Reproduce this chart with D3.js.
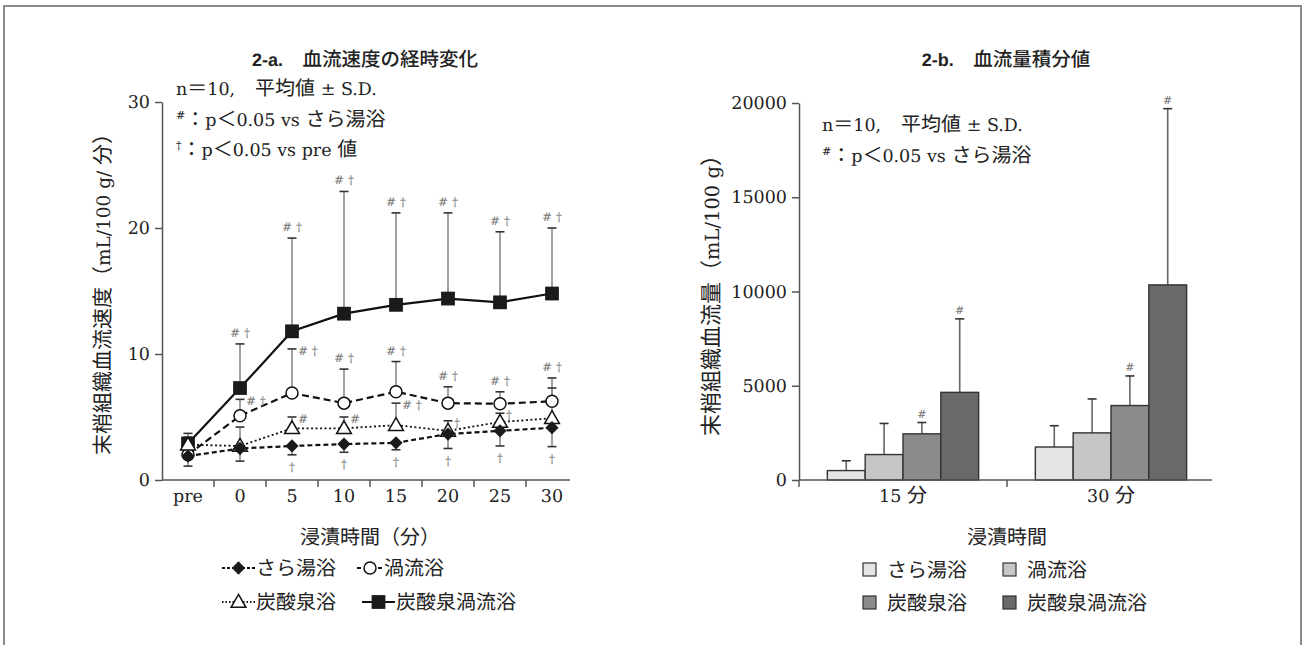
<!DOCTYPE html>
<html><head><meta charset="utf-8">
<script src="https://cdn.jsdelivr.net/npm/d3@7"></script>
<style>body{margin:0;background:#fff} text{text-rendering:geometricPrecision}</style>
</head><body><svg id="c" width="1304" height="645"></svg>
<script>
// ---------- data (left: 血流速度の経時変化) ----------
const timeLabels = ["pre","0","5","10","15","20","25","30"];
const yTicksL = [0,10,20,30];
const seriesNames = ["さら湯浴","渦流浴","炭酸泉浴","炭酸泉渦流浴"];
const saraMean      = [1.9,2.5,2.7,2.85,2.95,3.65,3.9,4.15];
const saraErrBottom = [1.1,1.5,2.0,2.2,2.4,2.5,2.7,2.65];
const uzuMean       = [2.0,5.1,6.9,6.1,7.0,6.1,6.05,6.25];
const uzuErrTop     = [2.6,6.4,10.4,8.8,9.4,7.4,7.0,8.1];
const tanMean       = [2.8,2.7,4.1,4.1,4.35,3.9,4.6,4.9];
const tanErrTop     = [3.4,4.2,5.0,5.0,6.1,4.7,5.3,7.3];
const tanUzuMean    = [2.9,7.3,11.8,13.2,13.9,14.4,14.1,14.8];
const tanUzuErrTop  = [3.7,10.8,19.2,22.9,21.2,21.2,19.7,20.0];
const saraSig   = ["","","†","†","†","†","†","†"];
const uzuSig    = ["","# †","# †","# †","# †","# †","# †","# †"];
const tanSig    = ["","","#","#","# †","†","†",""];
const tanUzuSig = ["","# †","# †","# †","# †","# †","# †","# †"];

// ---------- data (right: 血流量積分値) ----------
const periodLabels = ["15 分","30 分"];
const yTicksR = [0,5000,10000,15000,20000];
const barMean = {
  "さら湯浴":     [500, 1750],
  "渦流浴":       [1350, 2500],
  "炭酸泉浴":     [2450, 3950],
  "炭酸泉渦流浴": [4650, 10350]
};
const barErrTop = {
  "さら湯浴":     [1020, 2880],
  "渦流浴":       [3000, 4300],
  "炭酸泉浴":     [3050, 5520],
  "炭酸泉渦流浴": [8550, 19700]
};
const barSig = {
  "さら湯浴":     ["",""],
  "渦流浴":       ["",""],
  "炭酸泉浴":     ["#","#"],
  "炭酸泉渦流浴": ["#","#"]
};

// ---------- helpers ----------
const CJKSIZE = 20, LATSIZE = 17.5;
const CJK = /[\u3000-\u30ff\u3400-\u9fff\uff00-\uffef]/;
const RUNS = /[\u3000-\u30ff\u3400-\u9fff\uff00-\uffef]+|[^\u3000-\u30ff\u3400-\u9fff\uff00-\uffef]+/g;
function rich(sel, str, cjkSize=CJKSIZE, latSize=LATSIZE) {
  const spans = [];
  str.match(RUNS).forEach(r => {
    const c = CJK.test(r);
    spans.push(sel.append("tspan").text(r)
      .attr("font-family", c ? "'Noto Sans CJK JP'" : "'DejaVu Serif'")
      .attr("font-size", c ? cjkSize : latSize));
  });
  return spans;
}
const svg = d3.select("#c");
const AX = "#555";
const TXT = "#222";
const SIG = "#777";

// frame
svg.append("rect").attr("x",4).attr("y",6).attr("width",1297).attr("height",700)
  .attr("fill","none").attr("stroke","#8a8a8a").attr("stroke-width",2);

// ================= LEFT =================
const xL = d3.scaleBand().domain(timeLabels).range([162,578]);
const yL = d3.scaleLinear().domain([0,30]).range([480,102]);
const cx = d => xL(d) + xL.bandwidth()/2;
const gL = svg.append("g");

function styleAxis(g){
  g.selectAll("path.domain").attr("stroke",AX).attr("stroke-width",1.5);
  g.selectAll(".tick line").attr("stroke",AX).attr("stroke-width",1.5);
  g.selectAll(".tick text").attr("font-family","'DejaVu Serif'").attr("font-size",17.5).attr("fill",TXT);
}

const yAxL = gL.append("g").attr("transform","translate(162,0)")
  .call(d3.axisLeft(yL).tickValues(yTicksL).tickSize(7).tickSizeOuter(0).tickPadding(5));
styleAxis(yAxL);
const xAxL = gL.append("g").attr("transform","translate(0,480)")
  .call(d3.axisBottom(xL).tickSize(0).tickPadding(10));
xAxL.select(".domain").remove();
styleAxis(xAxL);
gL.append("line").attr("x1",162).attr("x2",570).attr("y1",480).attr("y2",480)
  .attr("stroke",AX).attr("stroke-width",1.5);
gL.selectAll("line.bt").data(timeLabels.slice(1)).join("line").attr("class","bt")
  .attr("x1",d=>xL(d)).attr("x2",d=>xL(d)).attr("y1",480).attr("y2",487)
  .attr("stroke",AX).attr("stroke-width",1.5);

// series definitions
const seriesL = [
  {name:"さら湯浴", mean:saraMean, err:saraErrBottom, sig:saraSig, dash:"5,3", w:2.2, sym:"diamond", sigMode:"below"},
  {name:"渦流浴", mean:uzuMean, err:uzuErrTop, sig:uzuSig, dash:"7,4", w:2.2, sym:"circle", sigMode:"above"},
  {name:"炭酸泉浴", mean:tanMean, err:tanErrTop, sig:tanSig, dash:"2,2.5", w:1.8, sym:"triangle", sigMode:"right"},
  {name:"炭酸泉渦流浴", mean:tanUzuMean, err:tanUzuErrTop, sig:tanUzuSig, dash:null, w:2.2, sym:"square", sigMode:"above"}
];
const rightLabelCircle = new Set(["0","5"]);
const markerOrder = [3,1,2,0];

// error bars
seriesL.forEach(s => {
  timeLabels.forEach((t,i) => {
    const x = cx(t), y0 = yL(s.mean[i]), y1 = yL(s.err[i]);
    gL.append("line").attr("x1",x).attr("x2",x).attr("y1",y0).attr("y2",y1)
      .attr("stroke","#8a8a8a").attr("stroke-width",1.6);
    gL.append("line").attr("x1",x-4.5).attr("x2",x+4.5).attr("y1",y1).attr("y2",y1)
      .attr("stroke","#333").attr("stroke-width",1.6);
  });
});

// lines
const lineGen = d3.line().x((d,i)=>cx(timeLabels[i])).y(d=>yL(d));
seriesL.forEach(s => {
  gL.append("path").attr("d", lineGen(s.mean)).attr("fill","none")
    .attr("stroke","#111").attr("stroke-width",s.w)
    .attr("stroke-dasharray", s.dash);
});

// markers
function drawMarker(g, sym, x, y){
  if (sym==="circle") {
    g.append("circle").attr("cx",x).attr("cy",y).attr("r",6).attr("fill","#fff").attr("stroke","#111").attr("stroke-width",1.5);
  } else if (sym==="square") {
    g.append("path").attr("d", d3.symbol(d3.symbolSquare, 190)()).attr("transform",`translate(${x},${y})`).attr("fill","#1a1a1a");
  } else if (sym==="diamond") {
    g.append("path").attr("d", d3.symbol(d3.symbolSquare, 88)()).attr("transform",`translate(${x},${y}) rotate(45)`).attr("fill","#1a1a1a");
  } else if (sym==="triangle") {
    g.append("path").attr("d", d3.symbol(d3.symbolTriangle, 95)()).attr("transform",`translate(${x},${y+1})`).attr("fill","#fff").attr("stroke","#111").attr("stroke-width",1.5);
  }
}
markerOrder.forEach(k => {
  const s = seriesL[k];
  timeLabels.forEach((t,i) => drawMarker(gL, s.sym, cx(t), yL(s.mean[i])));
});

// significance marks
seriesL.forEach(s => {
  timeLabels.forEach((t,i) => {
    if (!s.sig[i]) return;
    const x = cx(t), yc = yL(s.err[i]);
    let mode = s.sigMode;
    if (s.name==="渦流浴" && rightLabelCircle.has(t)) mode = "right";
    const tx = gL.append("text").text(s.sig[i]).attr("font-family","'DejaVu Serif'")
      .attr("font-size",12).attr("fill",SIG);
    if (mode==="above") tx.attr("x",x).attr("y",yc-7).attr("text-anchor","middle");
    else if (mode==="below") tx.attr("x",x).attr("y",yc+16).attr("text-anchor","middle");
    else tx.attr("x",x+6).attr("y",yc+6).attr("text-anchor","start");
  });
});

// titles and notes
function title(x, label, rest){
  const t = svg.append("text").attr("x",x).attr("y",66).attr("text-anchor","middle").attr("fill",TXT);
  t.append("tspan").text(label).attr("font-family","'Liberation Sans'").attr("font-weight","bold").attr("font-size",18);
  t.append("tspan").text("\u3000" + rest).attr("font-family","'Noto Sans CJK JP'").attr("font-weight",500).attr("font-size",19.5);
}
title(365, "2-a.", "血流速度の経時変化");

function notes(x, ys, lines){
  lines.forEach((ln,k)=>{
    const t = svg.append("text").attr("x",x).attr("y",ys[k]).attr("fill",TXT);
    if (ln.sup) t.append("tspan").text(ln.sup).attr("font-family","'DejaVu Serif'").attr("font-size",11).attr("dy",-7);
    const sp = rich(t, ln.text);
    if (ln.sup) sp[0].attr("dy",7);
  });
}
notes(176, [95,126,156], [
  {text:"n＝10,\u3000平均値 ± S.D."},
  {sup:"#", text:"：p＜0.05 vs さら湯浴"},
  {sup:"†", text:"：p＜0.05 vs pre 値"}
]);

rich(svg.append("text").attr("transform","translate(110,289) rotate(-90)").attr("text-anchor","middle").attr("fill",TXT),
  "末梢組織血流速度（mL/100 g/ 分）", 21, 18.5);
rich(svg.append("text").attr("x",370).attr("y",544).attr("text-anchor","middle").attr("fill",TXT),
  "浸漬時間（分）");

// legend left
const legL = [
  {s:seriesL[0], x:222, y:568},
  {s:seriesL[1], x:357, y:568},
  {s:seriesL[2], x:222, y:602},
  {s:seriesL[3], x:362, y:602}
];
legL.forEach(L => {
  const w = L.s.sym==="circle" ? 26 : 33;
  gL.append("line").attr("x1",L.x).attr("x2",L.x+w).attr("y1",L.y).attr("y2",L.y)
    .attr("stroke","#111").attr("stroke-width",L.s.w).attr("stroke-dasharray", L.s.dash ? (L.s.sym==="circle"?"4,3":(L.s.sym==="triangle"?"1.5,2":"3,2")) : null);
  drawMarker(gL, L.s.sym, L.x+w/2, L.y);
  rich(svg.append("text").attr("x",L.x+w+1).attr("y",L.y+7).attr("fill",TXT), L.s.name);
});

// ================= RIGHT =================
const xR = d3.scaleBand().domain(periodLabels).range([799,1215]);
const xInner = d3.scaleBand().domain(seriesNames).range([0,xR.bandwidth()]).paddingInner(0).paddingOuter(0.75);
const yR = d3.scaleLinear().domain([0,20000]).range([480,103]);
const barFill = {"さら湯浴":"#e5e5e7","渦流浴":"#c6c6c8","炭酸泉浴":"#8b8b8d","炭酸泉渦流浴":"#69696b"};
const gR = svg.append("g");

const yAxR = gR.append("g").attr("transform","translate(799,0)")
  .call(d3.axisLeft(yR).tickValues(yTicksR).tickSize(7).tickSizeOuter(0).tickPadding(5).tickFormat(d3.format("d")));
styleAxis(yAxR);
const xAxR = gR.append("g").attr("transform","translate(0,480)")
  .call(d3.axisBottom(xR).tickSize(0).tickPadding(10));
xAxR.select(".domain").remove();
styleAxis(xAxR);
xAxR.selectAll(".tick text").each(function(d){ const s=d3.select(this); s.text(null); rich(s, d); });

periodLabels.forEach((p,pi) => {
  seriesNames.forEach(n => {
    const x0 = xR(p) + xInner(n), bw = xInner.bandwidth(), xc = x0 + bw/2;
    const yTop = yR(barMean[n][pi]), yE = yR(barErrTop[n][pi]);
    gR.append("line").attr("x1",xc).attr("x2",xc).attr("y1",yTop).attr("y2",yE).attr("stroke","#666").attr("stroke-width",1.6);
    gR.append("line").attr("x1",xc-4.5).attr("x2",xc+4.5).attr("y1",yE).attr("y2",yE).attr("stroke","#333").attr("stroke-width",1.6);
    gR.append("rect").attr("x",x0).attr("y",yTop).attr("width",bw).attr("height",yR(0)-yTop)
      .attr("fill",barFill[n]).attr("stroke","#333").attr("stroke-width",1.4);
    if (barSig[n][pi]) gR.append("text").text(barSig[n][pi]).attr("x",xc).attr("y",yE-5)
      .attr("text-anchor","middle").attr("font-family","'DejaVu Serif'").attr("font-size",11).attr("fill",SIG);
  });
});
gR.append("line").attr("x1",799).attr("x2",1212).attr("y1",480).attr("y2",480).attr("stroke",AX).attr("stroke-width",1.5);
gR.selectAll("line.bt").data(periodLabels).join("line").attr("class","bt")
  .attr("x1",d=>xR(d)).attr("x2",d=>xR(d)).attr("y1",480).attr("y2",487)
  .attr("stroke",AX).attr("stroke-width",1.5);

title(1006, "2-b.", "血流量積分値");

notes(822, [131,162], [
  {text:"n＝10,\u3000平均値 ± S.D."},
  {sup:"#", text:"：p＜0.05 vs さら湯浴"}
]);
rich(svg.append("text").attr("transform","translate(719,290) rotate(-90)").attr("text-anchor","middle").attr("fill",TXT),
  "末梢組織血流量（mL/100 g）", 22, 19.5);
rich(svg.append("text").attr("x",1007).attr("y",544).attr("text-anchor","middle").attr("fill",TXT),
  "浸漬時間");

// legend right
const legR = [[0,863,570],[1,1003,570],[2,863,603],[3,1003,603]];
legR.forEach(([k,x,y]) => {
  const n = seriesNames[k];
  gR.append("rect").attr("x",x).attr("y",y-7).attr("width",13).attr("height",13)
    .attr("fill",barFill[n]).attr("stroke","#333").attr("stroke-width",1.2);
  rich(svg.append("text").attr("x",x+24).attr("y",y+7).attr("fill",TXT), n);
});
</script></body></html>
